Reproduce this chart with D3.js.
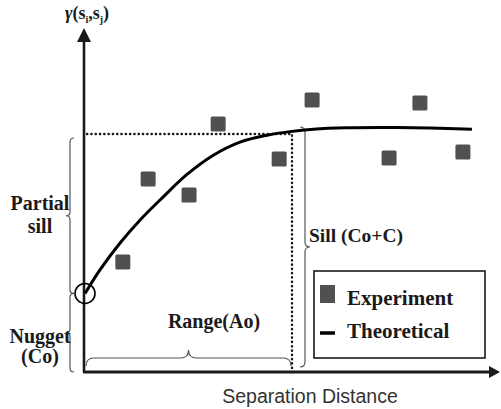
<html>
<script src="https://d3js.org/d3.v7.min.js"></script>
<body style="margin:0;background:#fff"></body>
<script>
const width = 501;
const height = 409;

// model parameters (data units)
const nugget = 3.3;
const sill = 10;
const range = 6;
const xMax = 12;
const yMax = 14.45;

// experimental semivariogram points
const expLag = [1.12, 1.85, 3.03, 3.87, 5.63, 6.58, 8.80, 9.69, 10.93];
const expGamma = [4.62, 8.11, 7.44, 10.42, 8.95, 11.43, 8.99, 11.30, 9.24];

// theoretical curve
const thLag = [0.03, 0.46, 1.04, 1.62, 2.28, 2.97, 3.72, 4.50, 5.28, 5.94, 6.61, 7.59, 9.03, 9.98, 11.19];
const thGamma = [3.30, 4.29, 5.42, 6.39, 7.35, 8.30, 9.10, 9.66, 9.95, 10.10, 10.20, 10.26, 10.27, 10.25, 10.2];

const legendLabels = ['Experiment', 'Theoretical'];

const x = d3.scaleLinear().domain([0, xMax]).range([84, 500]);
const y = d3.scaleLinear().domain([0, sill]).range([372, 134]);

const svg = d3.select('body').append('svg')
  .attr('width', width)
  .attr('height', height)
  .style('display', 'block');

const serif = "'Liberation Serif', 'Times New Roman', serif";
const ink = '#1a1a1a';

// braces
const vBrace = (bx, y1, y2, d, w) => {
  const ym = (y1 + y2) / 2;
  return `M${bx - d * w},${y1} Q${bx},${y1} ${bx},${y1 + w} L${bx},${ym - w} Q${bx},${ym} ${bx + d * w},${ym}` +
    ` Q${bx},${ym} ${bx},${ym + w} L${bx},${y2 - w} Q${bx},${y2} ${bx - d * w},${y2}`;
};
const hBrace = (by, x1, x2, d, w) => {
  const xm = (x1 + x2) / 2;
  return `M${x1},${by - d * w} Q${x1},${by} ${x1 + w},${by} L${xm - w},${by} Q${xm},${by} ${xm},${by + d * w}` +
    ` Q${xm},${by} ${xm + w},${by} L${x2 - w},${by} Q${x2},${by} ${x2},${by - d * w}`;
};

const braces = svg.append('g')
  .attr('fill', 'none')
  .attr('stroke', '#555')
  .attr('stroke-width', 1.2);
braces.append('path').attr('d', vBrace(x(0) - 14, y(sill) + 4, y(nugget), -1, 4));
braces.append('path').attr('d', vBrace(x(0) - 14, y(nugget), y(0), -1, 4));
braces.append('path').attr('d', vBrace(x(range) + 13, y(sill) - 7, y(0) - 5, 1, 5));
braces.append('path').attr('d', hBrace(y(0) - 14, x(0) + 2, x(range) - 1, -1, 8));

// dotted sill / range guides
svg.append('path')
  .attr('d', d3.line()([[x(0) + 3, y(sill)], [x(range), y(sill)], [x(range), y(0)]]))
  .attr('fill', 'none')
  .attr('stroke', ink)
  .attr('stroke-width', 2.4)
  .attr('stroke-linecap', 'round')
  .attr('stroke-dasharray', '0.3,4');

// axes
svg.append('line')
  .attr('x1', x(0)).attr('y1', y(0))
  .attr('x2', x(0)).attr('y2', y(yMax) + 10)
  .attr('stroke', ink).attr('stroke-width', 2.6);
svg.append('line')
  .attr('x1', x(0) - 1).attr('y1', y(0))
  .attr('x2', x(xMax) - 8).attr('y2', y(0))
  .attr('stroke', ink).attr('stroke-width', 2.8);
svg.append('path')
  .attr('d', `M${x(0)},${y(yMax)} L${x(0) + 7},${y(yMax) + 14} L${x(0) - 7},${y(yMax) + 14}Z`)
  .attr('fill', ink);
svg.append('path')
  .attr('d', `M${x(xMax)},${y(0)} L${x(xMax) - 11},${y(0) - 6} L${x(xMax) - 11},${y(0) + 6}Z`)
  .attr('fill', ink);

// theoretical curve
const curve = d3.line()
  .x((d, i) => x(thLag[i]))
  .y(d => y(d))
  .curve(d3.curveCatmullRom.alpha(0.5));
svg.append('path')
  .attr('d', curve(thGamma))
  .attr('fill', 'none')
  .attr('stroke', '#000')
  .attr('stroke-width', 3);

// nugget circle
svg.append('circle')
  .attr('cx', x(0) + 1)
  .attr('cy', y(nugget))
  .attr('r', 10)
  .attr('fill', 'none')
  .attr('stroke', '#000')
  .attr('stroke-width', 1.6);

// experimental squares
const sq = 15;
svg.append('g')
  .selectAll('rect')
  .data(expGamma)
  .join('rect')
  .attr('x', (d, i) => x(expLag[i]) - sq / 2)
  .attr('y', d => y(d) - sq / 2)
  .attr('width', sq)
  .attr('height', sq)
  .attr('rx', 1.5)
  .attr('fill', '#505050');

// labels
const label = (t, lx, ly, size, anchor) => svg.append('text')
  .attr('x', lx).attr('y', ly)
  .attr('text-anchor', anchor || 'middle')
  .attr('font-family', serif)
  .attr('font-weight', 'bold')
  .attr('font-size', size)
  .attr('fill', ink)
  .text(t);

label('Partial', 40, 210, 20);
label('sill', 40, 233, 20);
label('Nugget', 40, 343, 20);
label('(Co)', 40, 363, 20);
label('Range(Ao)', 214, 328, 20);
label('Sill (Co+C)', x(range) + 17, 242, 19.5, 'start');

// y axis title
const yt = svg.append('text')
  .attr('x', x(0) + 3).attr('y', 19)
  .attr('text-anchor', 'middle')
  .attr('font-family', serif)
  .attr('font-weight', 'bold')
  .attr('font-size', 18)
  .attr('fill', ink);
yt.append('tspan').attr('font-style', 'italic').text('γ');
yt.append('tspan').text('(s');
yt.append('tspan').attr('font-size', 10).attr('dy', 4).text('i');
yt.append('tspan').attr('dy', -4).text(',s');
yt.append('tspan').attr('font-size', 10).attr('dy', 4).text('j');
yt.append('tspan').attr('dy', -4).text(')');

// x axis title
svg.append('text')
  .attr('x', 310).attr('y', 403)
  .attr('text-anchor', 'middle')
  .attr('font-family', "'Liberation Sans', Arial, sans-serif")
  .attr('font-size', 19.5)
  .attr('fill', '#333')
  .text('Separation Distance');

// legend
const lg = svg.append('g').attr('transform', 'translate(314,271)');
lg.append('rect')
  .attr('width', 171).attr('height', 87)
  .attr('fill', '#fff')
  .attr('stroke', ink)
  .attr('stroke-width', 1.6);
lg.append('rect')
  .attr('x', 6).attr('y', 14).attr('width', 15).attr('height', 18)
  .attr('fill', '#505050');
lg.append('line')
  .attr('x1', 6).attr('x2', 21).attr('y1', 62).attr('y2', 62)
  .attr('stroke', '#000').attr('stroke-width', 3.5);
lg.selectAll('text.lab')
  .data(legendLabels)
  .join('text')
  .attr('class', 'lab')
  .attr('x', 33)
  .attr('y', (d, i) => 34 + i * 33)
  .attr('font-family', serif)
  .attr('font-weight', 'bold')
  .attr('font-size', 21)
  .attr('fill', ink)
  .text(d => d);
</script>
</html>
